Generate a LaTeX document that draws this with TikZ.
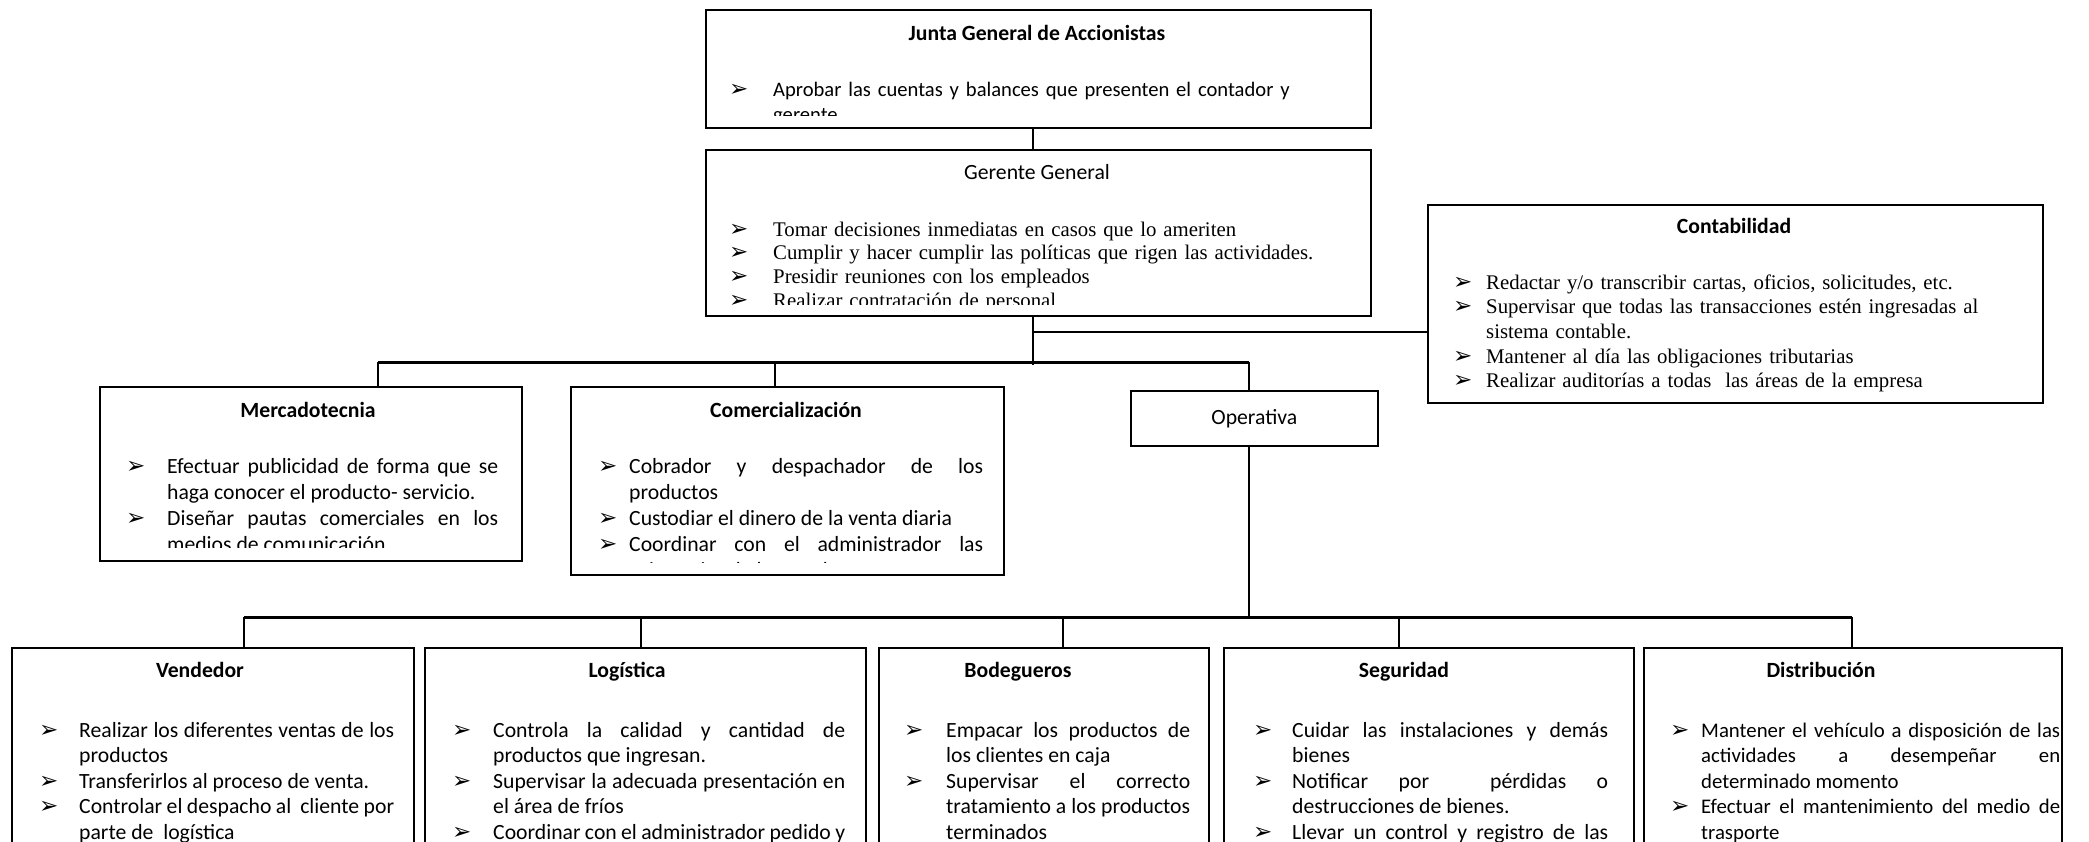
\documentclass[tikz,border=0pt]{standalone}
\usepackage{fontspec}
\setmainfont{Carlito}
\newfontfamily\tnr{Liberation Serif}
\newfontfamily\dv{DejaVu Sans}
\hyphenpenalty=10000
\exhyphenpenalty=10000
\newlength\hangw
\newcommand\bul{{\dv\fontsize{23}{23}\selectfont\char"27A2}}
\newcommand\itm[1]{\noindent\hangindent=\hangw\hangafter=1\makebox[\hangw][l]{\kern-2pt\bul}#1\par}
\tikzset{
  boxs/.style={draw, line width=1.6pt, inner sep=0pt, anchor=north west},
  conn/.style={line width=1.8pt},
  barl/.style={line width=3pt},
  ttl/.style={font=\bfseries\fontsize{21.7}{25}\selectfont, anchor=base, inner sep=0pt},
  ttr/.style={font=\fontsize{21.7}{25}\selectfont, anchor=base, inner sep=0pt},
  txtj/.style={anchor=base west, inner sep=0pt, align=justify, font=\fontsize{21.7}{25.5}\selectfont},
  txtt/.style={anchor=base west, inner sep=0pt, align=left, font=\tnr\fontsize{20.8}{23.7}\selectfont},
}
\begin{document}
\begin{tikzpicture}[x=1pt,y=-1pt]
\clip (0,0) rectangle (2089,841);
\fill[white] (0,0) rectangle (2089,841);

% ---------- boxes ----------
\node[boxs, minimum width=665pt, minimum height=118pt] (junta) at (705,9) {};
\node[boxs, minimum width=665pt, minimum height=166pt] (gerente) at (705,149) {};
\node[boxs, minimum width=615pt, minimum height=198pt] (conta) at (1427,204) {};
\node[boxs, minimum width=422pt, minimum height=174pt] (merc) at (99,386) {};
\node[boxs, minimum width=433pt, minimum height=188pt] (comer) at (570,386) {};
\node[boxs, minimum width=247pt, minimum height=55pt] (oper) at (1130,390) {};
\node[boxs, minimum width=402pt, minimum height=260pt] (vend) at (11,647) {};
\node[boxs, minimum width=441pt, minimum height=260pt] (logi) at (424,647) {};
\node[boxs, minimum width=330pt, minimum height=260pt] (bode) at (878,647) {};
\node[boxs, minimum width=410pt, minimum height=260pt] (segu) at (1223,647) {};
\node[boxs, minimum width=418pt, minimum height=260pt] (dist) at (1643,647) {};

% ---------- texts ----------
\node[ttl] (tjunta) at (1037,40) {Junta General de Accionistas};
\begin{scope}
\clip (706,10) rectangle (1369,115);
\node[txtt, font=\fontsize{20.6}{25.5}\selectfont, text width=600pt] (ijunta) at (731,96)
  {\setlength\hangw{42pt}\itm{Aprobar las cuentas y balances que presenten el contador y gerente}};
\end{scope}

\node[ttr] (tger) at (1037,179) {Gerente General};
\begin{scope}
\clip (706,150) rectangle (1369,304);
\node[txtt, text width=620pt] (iger) at (731,236)
  {\setlength\hangw{42pt}%
   \itm{Tomar decisiones inmediatas en casos que lo ameriten}
   \itm{Cumplir y hacer cumplir las políticas que rigen las actividades.}
   \itm{Presidir reuniones con los empleados}
   \itm{Realizar contratación de personal}};
\end{scope}

\node[ttl] (tconta) at (1734,233) {Contabilidad};
\node[txtt, font=\tnr\fontsize{20.8}{24.7}\selectfont, text width=545pt] (iconta) at (1455,289)
  {\setlength\hangw{31pt}%
   \itm{Redactar y/o transcribir cartas, oficios, solicitudes, etc.}
   \itm{Supervisar que todas las transacciones estén ingresadas al sistema contable.}
   \itm{Mantener al día las obligaciones tributarias}
   \itm{Realizar auditorías a todas\ \ las áreas de la empresa}};

\node[ttl] (tmerc) at (308,417) {Mercadotecnia};
\begin{scope}
\clip (100,387) rectangle (520,547);
\node[txtj, font=\fontsize{21.7}{26}\selectfont, text width=370pt] (imerc) at (128,473)
  {\setlength\hangw{39pt}%
   \itm{Efectuar publicidad de forma que se haga conocer el producto- servicio.}
   \itm{Diseñar pautas comerciales en los medios de comunicación.}};
\end{scope}

\node[ttl] (tcomer) at (786,417) {Comercialización};
\begin{scope}
\clip (571,387) rectangle (1002,562);
\node[txtj, font=\fontsize{21.7}{26}\selectfont, text width=383pt] (icomer) at (600,473)
  {\setlength\hangw{29pt}%
   \itm{Cobrador y despachador de los productos}
   \itm{Custodiar el dinero de la venta diaria}
   \itm{Coordinar con el administrador las existencias de los productos}};
\end{scope}

\node[ttr, anchor=center] (toper) at (oper.center) {Operativa};

\node[ttl] (tvend) at (200,677) {Vendedor};
\node[txtj, text width=353pt] (ivend) at (41,737)
  {\setlength\hangw{38pt}%
   \itm{Realizar los diferentes ventas de los productos}
   \itm{Transferirlos al proceso de venta.}
   \itm{Controlar el despacho al\ \ cliente por parte de\ \ logística}};

\node[ttl] (tlogi) at (627,677) {Logística};
\node[txtj, text width=391pt] (ilogi) at (454,737)
  {\setlength\hangw{39pt}%
   \itm{Controla la calidad y cantidad de productos que ingresan.}
   \itm{Supervisar la adecuada presentación en el área de fríos}
   \itm{Coordinar con el administrador pedido y\linebreak\mbox{}}};

\node[ttl] (tbode) at (1018,677) {Bodegueros};
\node[txtj, text width=284pt] (ibode) at (906,737)
  {\setlength\hangw{40pt}%
   \itm{Empacar los productos de los clientes en caja}
   \itm{Supervisar el correcto tratamiento a los productos terminados}};

\node[ttl] (tsegu) at (1404,677) {Seguridad};
\node[txtj, text width=353pt] (isegu) at (1255,737)
  {\setlength\hangw{37pt}%
   \itm{Cuidar las instalaciones y demás bienes}
   \itm{Notificar por\ \ pérdidas o destrucciones de bienes.}
   \itm{Llevar un control y registro de las\linebreak\mbox{}}};

\node[ttl] (tdist) at (1821,677) {Distribución};
\node[txtj, font=\fontsize{20.8}{25.5}\selectfont, text width=388pt] (idist) at (1672,737)
  {\setlength\hangw{29pt}%
   \itm{Mantener el vehículo a disposición de las\linebreak actividades a desempeñar en\linebreak determinado momento}
   \itm{Efectuar el mantenimiento del medio de trasporte}};

% ---------- connectors ----------
\coordinate (gj) at (1033,332);
\coordinate (gb) at (1033,365);
\coordinate (b1) at (378,362);
\coordinate (b2) at (775,362);
\coordinate (b3) at (1249,362);
\coordinate (c1) at (244,617);
\coordinate (c2) at (641,617);
\coordinate (c3) at (1063,617);
\coordinate (c4) at (1399,617);
\coordinate (c5) at (1852,617);

\draw[conn] (junta.south -| gj) -- (gerente.north -| gj);
\draw[conn] (gerente.south -| gj) -- (gb);
\draw[conn] (gj) -- (gj -| conta.west);
\draw[barl] (b1) -- (b3);
\draw[conn] (b1) -- (b1 |- merc.north);
\draw[conn] (b2) -- (b2 |- comer.north);
\draw[conn] (b3) -- (b3 |- oper.north);
\draw[conn] (oper.south -| b3) -- (b3 |- c1);
\draw[barl] (c1) -- (c5);
\draw[conn] (c1) -- (c1 |- vend.north);
\draw[conn] (c2) -- (c2 |- logi.north);
\draw[conn] (c3) -- (c3 |- bode.north);
\draw[conn] (c4) -- (c4 |- segu.north);
\draw[conn] (c5) -- (c5 |- dist.north);
\end{tikzpicture}
\end{document}
